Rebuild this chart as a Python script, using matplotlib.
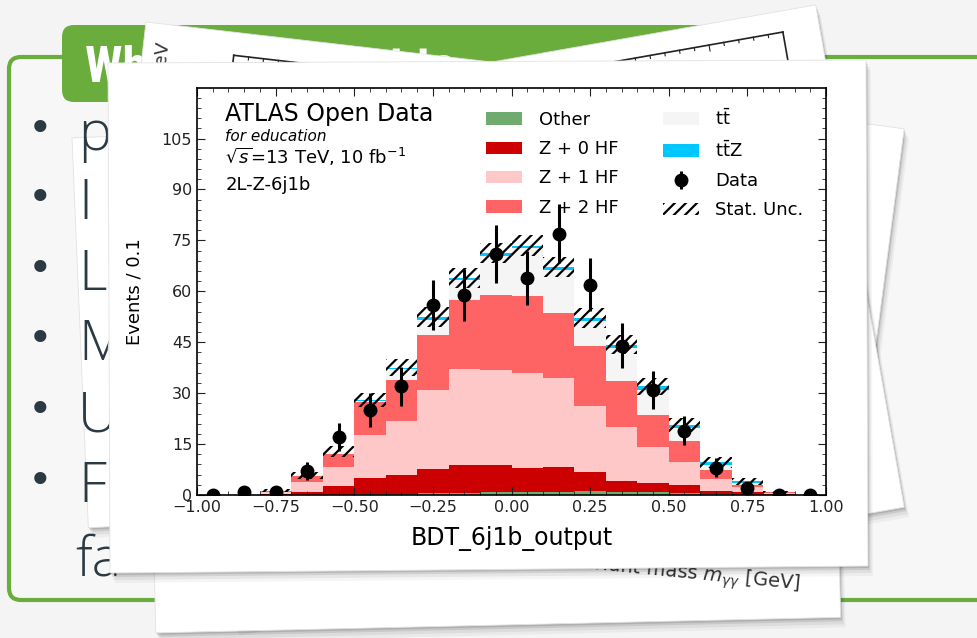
import numpy as np
import matplotlib
matplotlib.use('Agg')
import matplotlib.pyplot as plt
from matplotlib.patches import Polygon, FancyBboxPatch
from matplotlib.ticker import MultipleLocator

# BDT_6j1b_output, 20 bins of width 0.1 (2L-Z-6j1b region)
bin_centres = [-0.95, -0.85, -0.75, -0.65, -0.55, -0.45, -0.35, -0.25, -0.15, -0.05,
               0.05, 0.15, 0.25, 0.35, 0.45, 0.55, 0.65, 0.75, 0.85, 0.95]
data = [0, 1, 1, 7, 17, 25, 32, 56, 59, 71, 64, 77, 62, 44, 31, 19, 8, 2, 0, 0]
other = [0, 0, 0, 0, 0.1, 0.3, 0.4, 0.5, 0.6, 0.9, 1.0, 1.0, 1.1, 0.9, 0.8, 0.7, 0.2, 0, 0, 0]
z0hf = [0, 0, 0.3, 1.0, 2.5, 4.7, 5.6, 7.2, 8.2, 8.0, 6.9, 7.2, 5.8, 3.3, 2.6, 2.3, 1.0, 0.9, 0.3, 0]
z1hf = [0, 0, 0.5, 2.7, 5.6, 12.6, 15.7, 23.2, 28.4, 28.0, 27.9, 26.3, 19.2, 15.8, 10.6, 6.7, 3.5, 1.4, 0.2, 0]
z2hf = [0, 0, 0.5, 1.8, 4.0, 9.7, 12.3, 16.3, 20.3, 22.1, 22.7, 19.2, 17.8, 13.5, 9.7, 6.2, 2.7, 0.5, 0.3, 0.1]
ttbar = [0, 0, 0.1, 0.3, 0.5, 0.5, 3.2, 4.4, 5.7, 11.5, 14.2, 12.7, 7.4, 9.8, 7.3, 3.7, 1.4, 0.6, 0, 0.1]
ttz = [0, 0, 0, 0, 0.1, 0.2, 0.3, 0.8, 0.8, 0.8, 0.8, 0.8, 0.8, 0.9, 1.0, 1.0, 0.8, 0.6, 0.1, 0]
stat_unc = [0, 0, 0.5, 1.0, 1.5, 2.0, 2.5, 3.0, 3.0, 3.0, 3.0, 3.0, 3.0, 2.8, 2.5, 2.0, 1.5, 1.0, 0.3, 0.2]

samples = [('Other', other, '#6fab6f'),
           ('Z + 0 HF', z0hf, '#cc0000'),
           ('Z + 1 HF', z1hf, '#ffc8c8'),
           ('Z + 2 HF', z2hf, '#ff6464'),
           (r'$\mathrm{t\bar{t}}$', ttbar, '#f5f5f5'),
           (r'$\mathrm{t\bar{t}Z}$', ttz, '#00c8ff')]

bullet_letters = ['p', 'I', 'L', 'M', 'U', 'F']
bullet_y = [130, 199, 270, 340, 411, 482]

GREEN = '#6aad3d'
INK = '#2b3a42'

plt.rcParams['hatch.linewidth'] = 1.6

W, H = 977, 638
fig = plt.figure(figsize=(W / 100, H / 100), dpi=100, facecolor='#f4f4f4')

# slide in the background, drawn in pixel coordinates
bg = fig.add_axes([0, 0, 1, 1])
bg.set_xlim(0, W)
bg.set_ylim(H, 0)
bg.axis('off')

bg.add_patch(FancyBboxPatch((9, 57), 1010, 543, boxstyle='round,pad=0,rounding_size=12',
                            fc='#f7f7f7', ec=GREEN, lw=3, zorder=1))
bg.add_patch(FancyBboxPatch((62, 25), 680, 77, boxstyle='round,pad=0,rounding_size=12',
                            fc=GREEN, ec='none', zorder=2))
bg.text(85, 82, 'Why do we want to',
        family=['Liberation Sans Narrow', 'Roboto Condensed', 'Roboto', 'DejaVu Sans'],
        weight='bold', fontsize=36, color='white', zorder=3)


def card(x0, y0, w, h, ang, z):
    t = np.radians(ang)
    r = np.array([np.cos(t), np.sin(t)])
    d = np.array([-np.sin(t), np.cos(t)])
    p0 = np.array([x0, y0], dtype=float)
    pts = np.array([p0, p0 + w * r, p0 + w * r + h * d, p0 + h * d])
    for off, a in [(10, 0.04), (7, 0.06), (4, 0.09), (2, 0.12)]:
        bg.add_patch(Polygon(pts + [off * 0.5, off], closed=True, fc='k', ec='none',
                             alpha=a, zorder=z))
    bg.add_patch(Polygon(pts, closed=True, fc='white', ec='#e2e2e2', lw=0.6, zorder=z + 0.1))
    return p0, r, d


def frame_lines(p0, r, d, corner, length, down, z, left=True):
    c = p0 + corner[0] * r + corner[1] * d
    step = r if left else -r
    top_end = c + length * step
    side_end = c + down * d
    bg.plot([c[0], top_end[0]], [c[1], top_end[1]], color='#222', lw=1.2, zorder=z + 0.2)
    bg.plot([c[0], side_end[0]], [c[1], side_end[1]], color='#222', lw=1.2, zorder=z + 0.2)
    for k in range(1, int(length / 15)):
        a = c + k * 15 * step
        b = a + (6 if k % 5 == 0 else 3) * d
        bg.plot([a[0], b[0]], [a[1], b[1]], color='#222', lw=0.8, zorder=z + 0.2)


# card on the right, behind
card(230, 40, 680, 300, 7.5, 4)
# card tilted to the left (right corner up)
pB, rB, dB = card(146, 123, 680, 510, -10, 5)
frame_lines(pB, rB, dB, (643, 21), 580, 400, 5, left=False)
# bottom card with the diphoton mass axis label
card(144, 113, 685, 520, -1.3, 5.4)
bg.text(800, 590, r'diphoton invariant mass $m_{\gamma\gamma}$ [GeV]', rotation=-5.6,
        rotation_mode='anchor', ha='right', va='baseline', fontsize=14, color='#333',
        zorder=5.6)
# card tilted to the right
pA, rA, dA = card(146, 22, 700, 330, 6.6, 6)
frame_lines(pA, rA, dA, (91, 23), 600, 300, 6, left=True)
ylab = pA + 20 * rA + 18 * dA
bg.text(ylab[0], ylab[1], 'Events / GeV', rotation=83.4, rotation_mode='anchor',
        ha='right', va='center', fontsize=13, color='#333', zorder=6.3)
# left card, under the bullet text
card(72, 138, 700, 390, -2.4, 3)
for yd, letter in zip(bullet_y, bullet_letters):
    bg.text(40, yd, u'\u2022', fontsize=30, color=INK, ha='center', va='center', zorder=3.5)
    bg.text(78, yd + 20, letter, family=['Open Sans', 'DejaVu Sans'], weight='light',
            fontsize=40, color=INK, va='baseline', zorder=3.5)
bg.text(75, 575, 'fa', family=['Open Sans', 'DejaVu Sans'], weight='light',
        fontsize=40, color=INK, va='baseline', zorder=3.5)
# main card
main_card = np.array([[108, 63], [866, 60], [868, 566], [110, 573]])
for off, a in [(10, 0.04), (7, 0.06), (4, 0.09), (2, 0.12)]:
    bg.add_patch(Polygon(main_card + [off * 0.5, off], closed=True, fc='k', ec='none',
                         alpha=a, zorder=9))
bg.add_patch(Polygon(main_card, closed=True, fc='white', ec='#e2e2e2', lw=0.6, zorder=9.1))

# the histogram
ax = fig.add_axes([197 / W, 1 - 495 / H, 629 / W, 407 / H])
ax.set_zorder(20)
ax.patch.set_alpha(0)

bottom = np.zeros(len(bin_centres))
for label, values, colour in samples:
    ax.bar(bin_centres, values, width=0.1, bottom=bottom, color=colour, label=label,
           linewidth=0)
    bottom = bottom + np.array(values)

mc_tot = bottom
unc = np.array(stat_unc)
ax.bar(bin_centres, 2 * unc, width=0.1, bottom=mc_tot - unc, fill=False, linewidth=0,
       hatch='///', edgecolor='k', label='Stat. Unc.')

ax.errorbar(bin_centres, data, yerr=np.sqrt(data), fmt='ko', markersize=9,
            elinewidth=2.2, label='Data')

ax.set_xlim(-1, 1)
ax.set_ylim(0, 119.9)
ax.xaxis.set_major_locator(MultipleLocator(0.25))
ax.xaxis.set_minor_locator(MultipleLocator(0.05))
ax.yaxis.set_major_locator(MultipleLocator(15))
ax.yaxis.set_minor_locator(MultipleLocator(3))
ax.tick_params(which='both', direction='in', top=True, right=True, labelsize=11.5,
               colors='#222')
ax.tick_params(which='major', length=6)
ax.tick_params(which='minor', length=3)
for s in ax.spines.values():
    s.set_linewidth(1.2)
ax.set_xlabel('BDT_6j1b_output', fontsize=17, labelpad=8)
ax.set_ylabel('Events / 0.1', fontsize=13, labelpad=13)

ax.text(0.045, 0.919, 'ATLAS Open Data', transform=ax.transAxes, fontsize=17)
ax.text(0.045, 0.870, 'for education', transform=ax.transAxes, fontsize=11, style='italic')
ax.text(0.045, 0.813, r'$\sqrt{s}$=13 TeV, 10 fb$^{-1}$', transform=ax.transAxes, fontsize=13)
ax.text(0.045, 0.749, '2L-Z-6j1b', transform=ax.transAxes, fontsize=13)

handles, labels = ax.get_legend_handles_labels()
order = ['Other', 'Z + 0 HF', 'Z + 1 HF', 'Z + 2 HF', r'$\mathrm{t\bar{t}}$',
         r'$\mathrm{t\bar{t}Z}$', 'Data', 'Stat. Unc.']
hmap = dict(zip(labels, handles))
ax.legend([hmap[k] for k in order], order, ncol=2, frameon=False, fontsize=13,
          loc='upper left', bbox_to_anchor=(0.46, 0.95), borderaxespad=0, borderpad=0,
          handlelength=2.0, handletextpad=0.9, columnspacing=2.45, labelspacing=0.62)

fig.savefig('out.png', dpi=100, facecolor=fig.get_facecolor())
